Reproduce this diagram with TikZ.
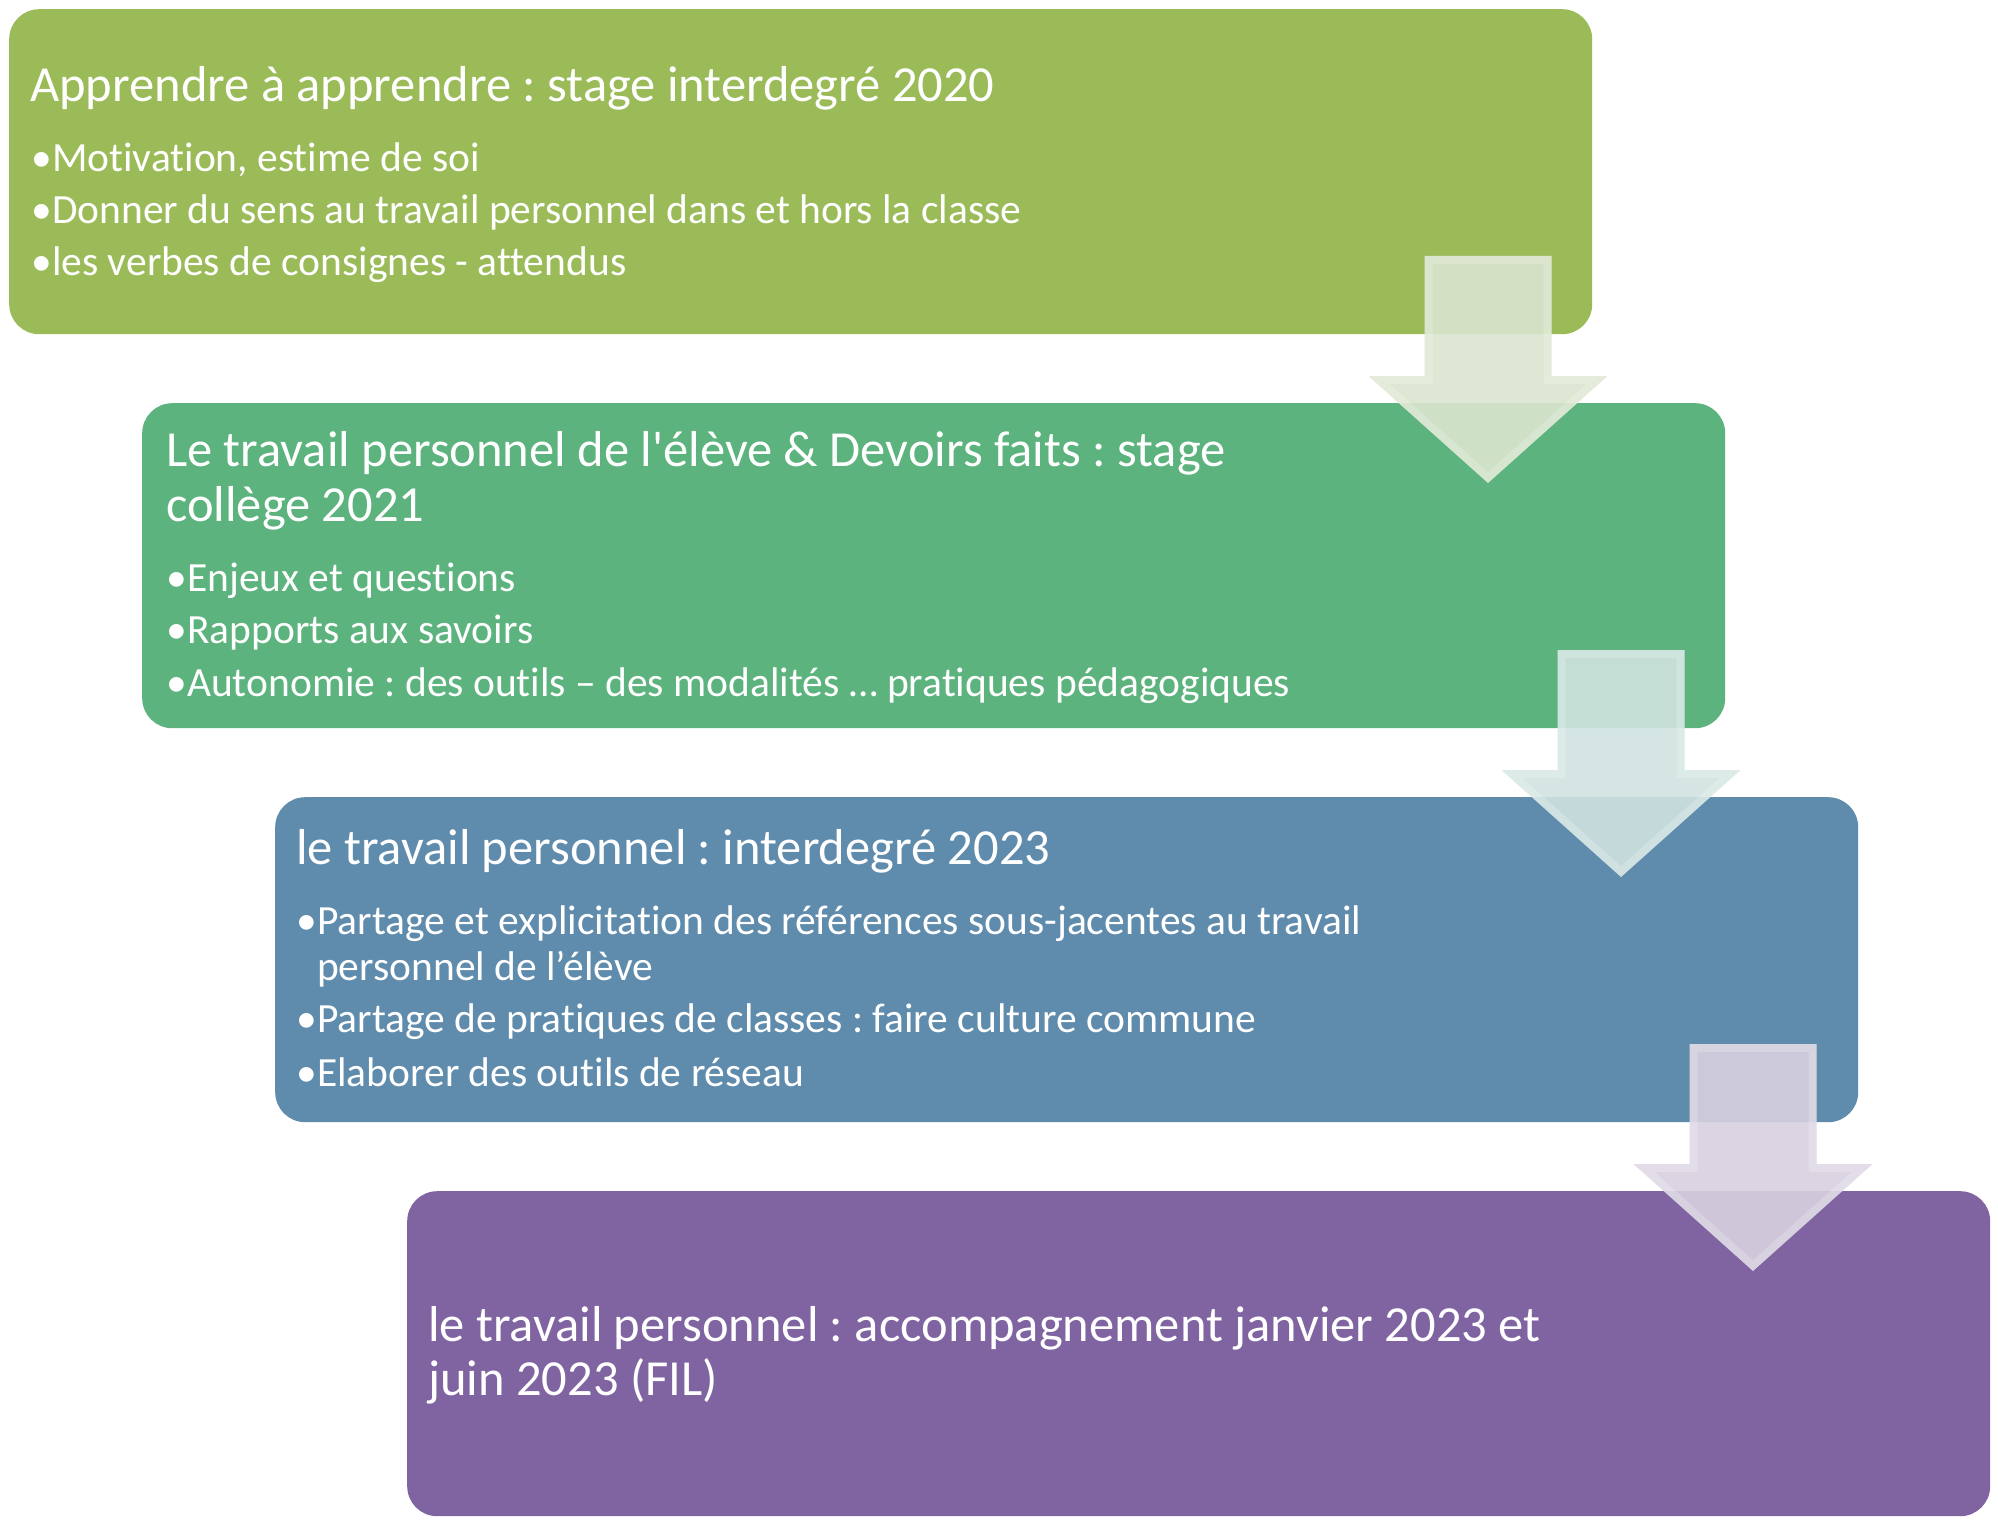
\documentclass[tikz,border=0pt]{standalone}
\usepackage{fontspec}
\newfontfamily\carlito{Carlito}[Ligatures={CommonOff}]
\definecolor{cOne}{HTML}{9BBB59}
\definecolor{cTwo}{HTML}{5CB37D}
\definecolor{cThree}{HTML}{5F8BAC}
\definecolor{cFour}{HTML}{8064A2}
\definecolor{aOne}{HTML}{DBE5CF}
\definecolor{aTwo}{HTML}{D0E3E0}
\definecolor{aThree}{HTML}{D8D1E0}
\newcommand\arrowshape[3]{%
  \path[#3] ({#1-63.5},#2) -- ({#1+63.5},#2) -- ({#1+63.5},{#2+120}) --
    ({#1+119.5},{#2+120}) -- (#1,{#2+227}) -- ({#1-119.5},{#2+120}) --
    ({#1-63.5},{#2+120}) -- cycle;}
\newcommand\blockarrow[3]{%
  \arrowshape{#1}{#2}{fill=#3, fill opacity=0.9}
  \begin{scope}
    \arrowshape{#1}{#2}{clip}
    \arrowshape{#1}{#2}{draw=white, draw opacity=0.2, line width=16pt, line join=miter}
  \end{scope}}
\newcommand\bul{\makebox[21pt][l]{•}}
\frenchspacing
\begin{document}
\begin{tikzpicture}[x=1pt,y=-1pt,
  box/.style={rectangle, rounded corners=30pt, draw=none, minimum width=1583pt,
    minimum height=325pt, anchor=north west, inner sep=0pt},
  ttl/.style={anchor=base west, inner sep=0pt, text=white,
    font=\carlito\frenchspacing\fontsize{50.5}{55}\selectfont},
  itm/.style={anchor=base west, inner sep=0pt, text=white,
    font=\carlito\frenchspacing\fontsize{41.5}{50}\selectfont},
]
\useasboundingbox (0,0) rectangle (1998,1525);
\fill[white] (0,0) rectangle (1998,1525);

\node[box, fill=cOne]   (b1) at (9,9) {};
\node[box, fill=cTwo]   (b2) at (142,403) {};
\node[box, fill=cThree] (b3) at (275,797) {};
\node[box, fill=cFour]  (b4) at (407,1191) {};

% box 1
\node[ttl] (t1) at (30,102) {Apprendre à apprendre : stage interdegré 2020};
\node[itm] (i11) at (31,172) {\bul Motivation, estime de soi};
\node[itm] (i12) at (31,224) {\bul Donner du sens au travail personnel dans et hors la classe};
\node[itm] (i13) at (31,276) {\bul les verbes de consignes - attendus};

% box 2
\node[ttl] (t2a) at (166,466) {Le travail personnel de l'élève \& Devoirs faits : stage};
\node[ttl] (t2b) at (166,521) {collège 2021};
\node[itm] (i21) at (166,591) {\bul Enjeux et questions};
\node[itm] (i22) at (166,643) {\bul Rapports aux savoirs};
\node[itm] (i23) at (166,696) {\bul Autonomie : des outils – des modalités … pratiques pédagogiques};

% box 3
\node[ttl] (t3) at (296,864) {le travail personnel : interdegré 2023};
\node[itm] (i31) at (296,934) {\bul Partage et explicitation des références sous-jacentes au travail};
\node[itm] (i31b) at (317,980) {personnel de l’élève};
\node[itm] (i32) at (296,1032) {\bul Partage de pratiques de classes : faire culture commune};
\node[itm] (i33) at (296,1086) {\bul Elaborer des outils de réseau};

% box 4
\node[ttl] (t4a) at (428,1341) {le travail personnel : accompagnement janvier 2023 et};
\node[ttl] (t4b) at (428,1395) {juin 2023 (FIL)};

% arrows
\blockarrow{1488}{256}{aOne}
\blockarrow{1621}{650}{aTwo}
\blockarrow{1753}{1044}{aThree}
\end{tikzpicture}
\end{document}
